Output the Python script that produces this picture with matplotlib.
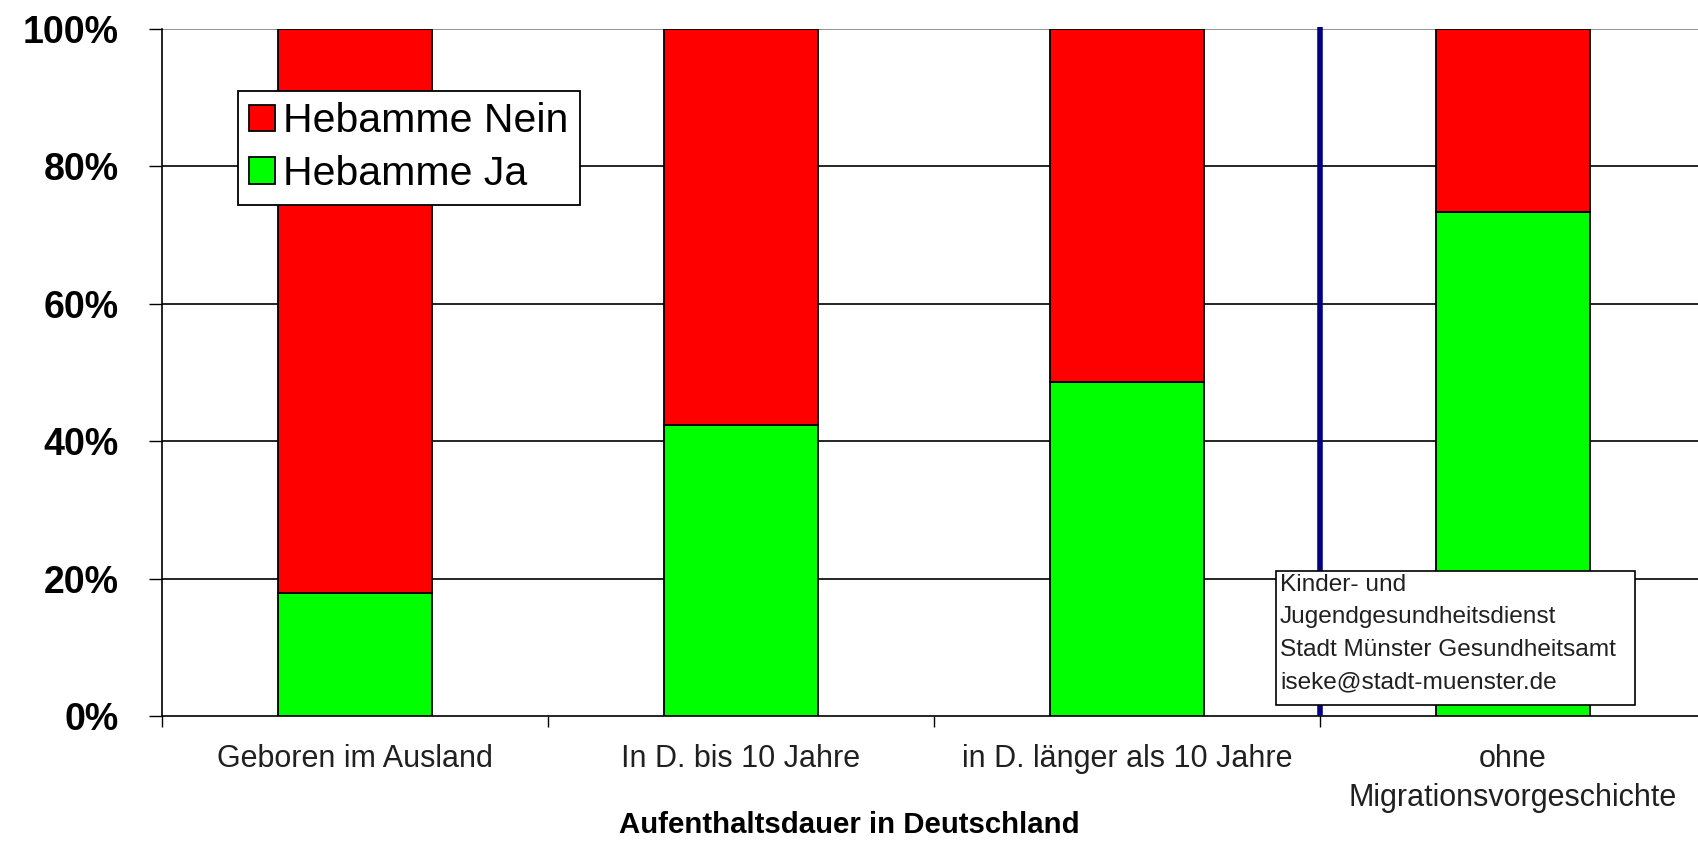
import matplotlib
matplotlib.use("Agg")
import matplotlib.pyplot as plt
from matplotlib.patches import Rectangle
from matplotlib.ticker import FuncFormatter
import numpy as np

plt.rcParams['font.family'] = ['Liberation Sans', 'DejaVu Sans']

# Anteil mit / ohne Hebamme je Gruppe (in %)
gruppen = ["Geboren im Ausland", "In D. bis 10 Jahre", "in D. länger als 10 Jahre",
           "ohne\nMigrationsvorgeschichte"]
hebamme_ja = [17.9, 42.4, 48.6, 73.3]
hebamme_nein = [100 - v for v in hebamme_ja]

fig = plt.figure(figsize=(16.98, 8.67), dpi=100)
ax = fig.add_axes([0.0955, 0.174, 0.909, 0.7925])

x = np.arange(len(gruppen))
ax.bar(x, hebamme_ja, width=0.4, color="#00FF00", edgecolor="black", linewidth=1.3,
       label="Hebamme Ja", zorder=3)
ax.bar(x, hebamme_nein, width=0.4, bottom=hebamme_ja, color="#FF0000", edgecolor="black",
       linewidth=1.3, label="Hebamme Nein", zorder=3)

ax.set_xlim(-0.5, 3.5)
ax.set_ylim(0, 100)

# Gitternetz
for y in [20, 40, 60, 80]:
    ax.axhline(y, color="black", linewidth=1.2, zorder=1)
ax.axhline(100, color="#808080", linewidth=1.2, zorder=1)

# Trennlinie vor der Vergleichsgruppe
ax.plot([2.5, 2.5], [0, 100.3], color="#000080", linewidth=4, zorder=4, clip_on=False,
        solid_capstyle="butt")

ax.set_yticks([0, 20, 40, 60, 80, 100])
ax.yaxis.set_major_formatter(FuncFormatter(lambda v, p: f"{int(v)}%"))
ax.tick_params(axis="y", length=9.5, width=1, direction="out", pad=22, labelsize=27)
for lbl in ax.get_yticklabels():
    lbl.set_fontweight("bold")

ax.set_xticks([-0.5, 0.5, 1.5, 2.5, 3.5])
ax.set_xticklabels([])
ax.tick_params(axis="x", which="major", length=8, width=1, direction="out")
ax.set_xticks(x, minor=True)
ax.set_xticklabels(gruppen, minor=True, fontsize=22, color="#202020", linespacing=1.4)
ax.tick_params(axis="x", which="minor", length=0, pad=20)

for side in ["top", "right"]:
    ax.spines[side].set_visible(False)
ax.spines["left"].set_linewidth(1.2)
ax.spines["bottom"].set_linewidth(1.2)

handles, labels = ax.get_legend_handles_labels()
leg = ax.legend(handles[::-1], labels[::-1], loc="upper left", bbox_to_anchor=(0.049, 0.91),
                borderaxespad=0, fontsize=29.5, frameon=True, fancybox=False, framealpha=1,
                handlelength=0.62, handleheight=0.62, handletextpad=0.2,
                labelspacing=0.36, borderpad=0.28)
leg.get_frame().set_edgecolor("black")
leg.get_frame().set_linewidth(1.3)
leg.set_zorder(5)

fig.text(0.5, 0.0485, "Aufenthaltsdauer in Deutschland", ha="center", va="center",
         fontsize=21.2, fontweight="bold")

# Quellenangabe
fig.patches.append(Rectangle((0.7515, 0.1869), 0.2114, 0.1546, transform=fig.transFigure,
                             facecolor="white", edgecolor="black", linewidth=1.2))
fig.text(0.7538, 0.338, "Kinder- und\nJugendgesundheitsdienst\nStadt Münster Gesundheitsamt\n"
         "iseke@stadt-muenster.de", ha="left", va="top", fontsize=17.6, linespacing=1.62,
         color="#202020")

fig.savefig("out.png", dpi=100)
